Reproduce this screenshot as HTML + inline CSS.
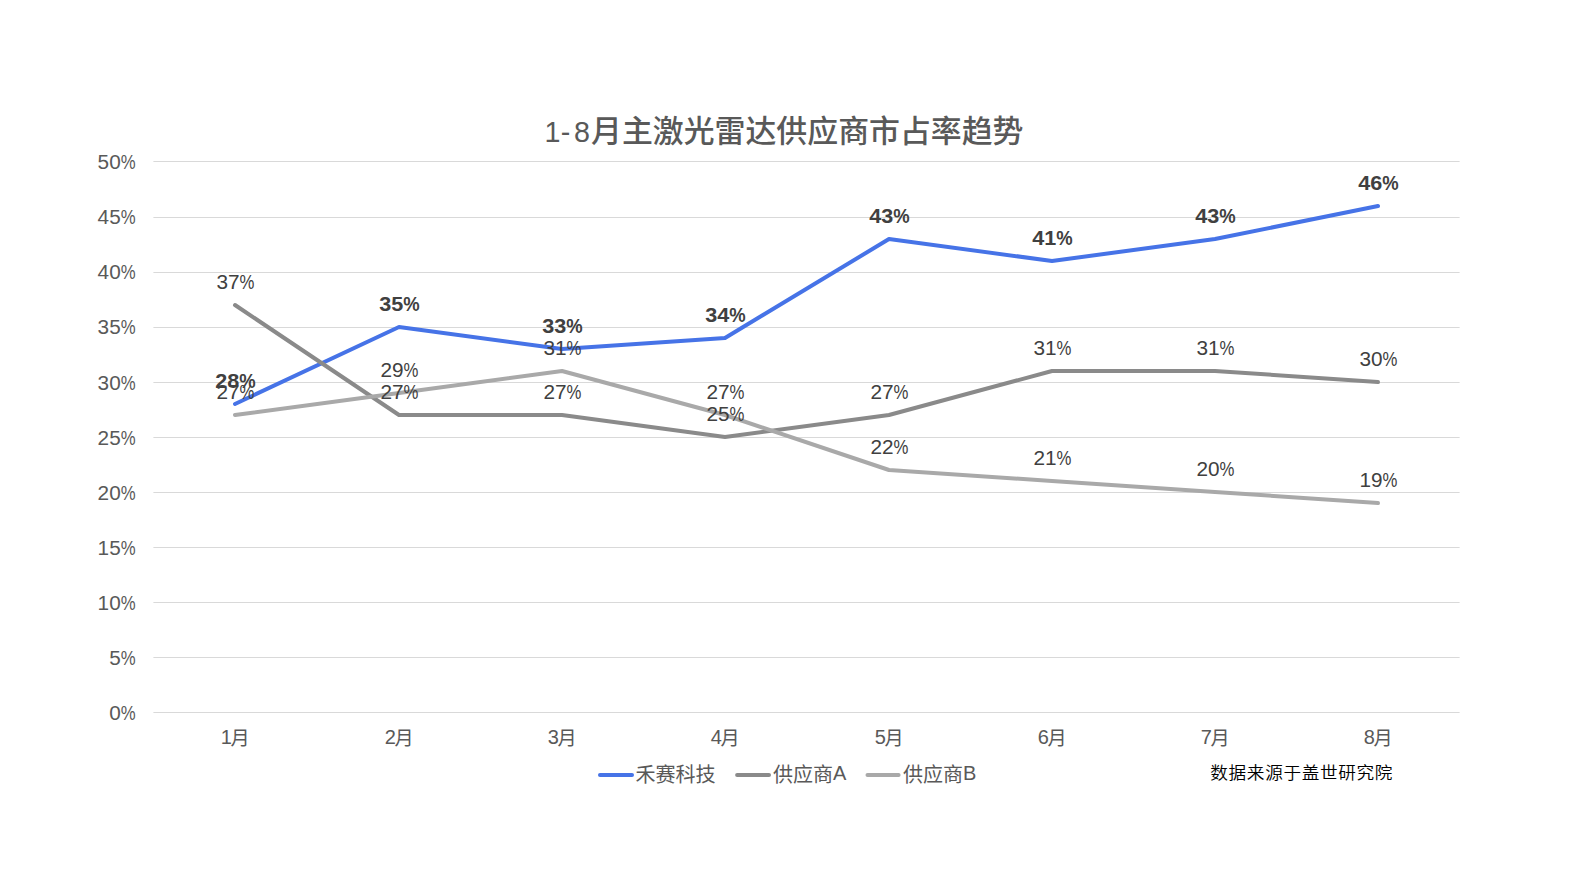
<!DOCTYPE html>
<html lang="zh-CN"><head><meta charset="utf-8"><title>1-8月主激光雷达供应商市占率趋势</title>
<style>
html,body{margin:0;padding:0;background:#fff;}
body{width:1593px;height:890px;overflow:hidden;}
svg{display:block;}
text{font-family:"Liberation Sans","Noto Sans CJK SC",sans-serif;}
.ax{font-size:20px;fill:#595959;text-anchor:end;}
.cat{font-size:19.2px;fill:#595959;text-anchor:middle;}
.lb{font-size:20px;fill:#404040;text-anchor:middle;}
.lbb{font-size:20px;fill:#404040;font-weight:bold;text-anchor:middle;}
.ttl{font-size:30.9px;fill:#595959;}
.leg{font-size:20px;fill:#595959;}
.src{font-size:17.64px;fill:#000;font-weight:350;letter-spacing:0.66px;}
.ln{fill:none;stroke-width:4;stroke-linecap:round;stroke-linejoin:round;}
</style></head><body>
<svg width="1593" height="890" viewBox="0 0 1593 890">
<rect width="1593" height="890" fill="#ffffff"/>
<text class="ttl" y="141.5"><tspan x="544.6" dx="0 -1.7 1.7" font-size="28.7" letter-spacing="1.9">1-8</tspan><tspan x="591" font-weight="500">月主激光雷达供应商市占率趋势</tspan></text>
<g fill="#d9d9d9">
<rect x="153.4" y="161" width="1306.2" height="1"/>
<rect x="153.4" y="217" width="1306.2" height="1"/>
<rect x="153.4" y="272" width="1306.2" height="1"/>
<rect x="153.4" y="327" width="1306.2" height="1"/>
<rect x="153.4" y="382" width="1306.2" height="1"/>
<rect x="153.4" y="437" width="1306.2" height="1"/>
<rect x="153.4" y="492" width="1306.2" height="1"/>
<rect x="153.4" y="547" width="1306.2" height="1"/>
<rect x="153.4" y="602" width="1306.2" height="1"/>
<rect x="153.4" y="657" width="1306.2" height="1"/>
<rect x="153.4" y="712" width="1306.2" height="1"/>
</g>
<g class="ax">
<text x="135.6" y="168.6"><tspan textLength="23.10" lengthAdjust="spacingAndGlyphs">50</tspan><tspan textLength="14.90" lengthAdjust="spacingAndGlyphs">%</tspan></text>
<text x="135.6" y="223.6"><tspan textLength="23.10" lengthAdjust="spacingAndGlyphs">45</tspan><tspan textLength="14.90" lengthAdjust="spacingAndGlyphs">%</tspan></text>
<text x="135.6" y="278.6"><tspan textLength="23.10" lengthAdjust="spacingAndGlyphs">40</tspan><tspan textLength="14.90" lengthAdjust="spacingAndGlyphs">%</tspan></text>
<text x="135.6" y="333.6"><tspan textLength="23.10" lengthAdjust="spacingAndGlyphs">35</tspan><tspan textLength="14.90" lengthAdjust="spacingAndGlyphs">%</tspan></text>
<text x="135.6" y="389.6"><tspan textLength="23.10" lengthAdjust="spacingAndGlyphs">30</tspan><tspan textLength="14.90" lengthAdjust="spacingAndGlyphs">%</tspan></text>
<text x="135.6" y="444.6"><tspan textLength="23.10" lengthAdjust="spacingAndGlyphs">25</tspan><tspan textLength="14.90" lengthAdjust="spacingAndGlyphs">%</tspan></text>
<text x="135.6" y="499.6"><tspan textLength="23.10" lengthAdjust="spacingAndGlyphs">20</tspan><tspan textLength="14.90" lengthAdjust="spacingAndGlyphs">%</tspan></text>
<text x="135.6" y="554.5"><tspan textLength="23.10" lengthAdjust="spacingAndGlyphs">15</tspan><tspan textLength="14.90" lengthAdjust="spacingAndGlyphs">%</tspan></text>
<text x="135.6" y="609.5"><tspan textLength="23.10" lengthAdjust="spacingAndGlyphs">10</tspan><tspan textLength="14.90" lengthAdjust="spacingAndGlyphs">%</tspan></text>
<text x="135.6" y="664.5"><tspan textLength="11.55" lengthAdjust="spacingAndGlyphs">5</tspan><tspan textLength="14.90" lengthAdjust="spacingAndGlyphs">%</tspan></text>
<text x="135.6" y="719.5"><tspan textLength="11.55" lengthAdjust="spacingAndGlyphs">0</tspan><tspan textLength="14.90" lengthAdjust="spacingAndGlyphs">%</tspan></text>
</g>
<g class="cat">
<text x="235.2" y="745.4"><tspan font-size="20" dy="-1.4" letter-spacing="-1.2">1</tspan><tspan dy="1.1">月</tspan></text>
<text x="399.2" y="745.4"><tspan font-size="20" dy="-1.4" letter-spacing="-1.2">2</tspan><tspan dy="1.1">月</tspan></text>
<text x="562.2" y="745.4"><tspan font-size="20" dy="-1.4" letter-spacing="-1.2">3</tspan><tspan dy="1.1">月</tspan></text>
<text x="725.2" y="745.4"><tspan font-size="20" dy="-1.4" letter-spacing="-1.2">4</tspan><tspan dy="1.1">月</tspan></text>
<text x="889.2" y="745.4"><tspan font-size="20" dy="-1.4" letter-spacing="-1.2">5</tspan><tspan dy="1.1">月</tspan></text>
<text x="1052.2" y="745.4"><tspan font-size="20" dy="-1.4" letter-spacing="-1.2">6</tspan><tspan dy="1.1">月</tspan></text>
<text x="1215.2" y="745.4"><tspan font-size="20" dy="-1.4" letter-spacing="-1.2">7</tspan><tspan dy="1.1">月</tspan></text>
<text x="1378.2" y="745.4"><tspan font-size="20" dy="-1.4" letter-spacing="-1.2">8</tspan><tspan dy="1.1">月</tspan></text>
</g>
<polyline class="ln" stroke="#4673e7" points="235.0,404.0 399.0,327.0 562.0,349.0 725.0,338.0 889.0,239.0 1052.0,261.0 1215.0,239.0 1378.0,206.0"/>
<polyline class="ln" stroke="#8a8a8a" points="235.0,305.0 399.0,415.0 562.0,415.0 725.0,437.0 889.0,415.0 1052.0,371.0 1215.0,371.0 1378.0,382.0"/>
<polyline class="ln" stroke="#a9a9a9" points="235.0,415.0 399.0,393.0 562.0,371.0 725.0,415.0 889.0,470.0 1052.0,481.0 1215.0,492.0 1378.0,503.0"/>
<g class="lbb">
<text x="235.5" y="388.2"><tspan textLength="24.00" lengthAdjust="spacingAndGlyphs">28</tspan><tspan textLength="16.40" lengthAdjust="spacingAndGlyphs">%</tspan></text>
<text x="399.5" y="311.2"><tspan textLength="24.00" lengthAdjust="spacingAndGlyphs">35</tspan><tspan textLength="16.40" lengthAdjust="spacingAndGlyphs">%</tspan></text>
<text x="562.5" y="333.2"><tspan textLength="24.00" lengthAdjust="spacingAndGlyphs">33</tspan><tspan textLength="16.40" lengthAdjust="spacingAndGlyphs">%</tspan></text>
<text x="725.5" y="322.2"><tspan textLength="24.00" lengthAdjust="spacingAndGlyphs">34</tspan><tspan textLength="16.40" lengthAdjust="spacingAndGlyphs">%</tspan></text>
<text x="889.5" y="223.2"><tspan textLength="24.00" lengthAdjust="spacingAndGlyphs">43</tspan><tspan textLength="16.40" lengthAdjust="spacingAndGlyphs">%</tspan></text>
<text x="1052.5" y="245.2"><tspan textLength="24.00" lengthAdjust="spacingAndGlyphs">41</tspan><tspan textLength="16.40" lengthAdjust="spacingAndGlyphs">%</tspan></text>
<text x="1215.5" y="223.2"><tspan textLength="24.00" lengthAdjust="spacingAndGlyphs">43</tspan><tspan textLength="16.40" lengthAdjust="spacingAndGlyphs">%</tspan></text>
<text x="1378.5" y="190.2"><tspan textLength="24.00" lengthAdjust="spacingAndGlyphs">46</tspan><tspan textLength="16.40" lengthAdjust="spacingAndGlyphs">%</tspan></text>
</g>
<g class="lb">
<text x="235.5" y="289.2"><tspan textLength="23.10" lengthAdjust="spacingAndGlyphs">37</tspan><tspan textLength="14.90" lengthAdjust="spacingAndGlyphs">%</tspan></text>
<text x="399.5" y="399.2"><tspan textLength="23.10" lengthAdjust="spacingAndGlyphs">27</tspan><tspan textLength="14.90" lengthAdjust="spacingAndGlyphs">%</tspan></text>
<text x="562.5" y="399.2"><tspan textLength="23.10" lengthAdjust="spacingAndGlyphs">27</tspan><tspan textLength="14.90" lengthAdjust="spacingAndGlyphs">%</tspan></text>
<text x="725.5" y="421.2"><tspan textLength="23.10" lengthAdjust="spacingAndGlyphs">25</tspan><tspan textLength="14.90" lengthAdjust="spacingAndGlyphs">%</tspan></text>
<text x="889.5" y="399.2"><tspan textLength="23.10" lengthAdjust="spacingAndGlyphs">27</tspan><tspan textLength="14.90" lengthAdjust="spacingAndGlyphs">%</tspan></text>
<text x="1052.5" y="355.2"><tspan textLength="23.10" lengthAdjust="spacingAndGlyphs">31</tspan><tspan textLength="14.90" lengthAdjust="spacingAndGlyphs">%</tspan></text>
<text x="1215.5" y="355.2"><tspan textLength="23.10" lengthAdjust="spacingAndGlyphs">31</tspan><tspan textLength="14.90" lengthAdjust="spacingAndGlyphs">%</tspan></text>
<text x="1378.5" y="366.2"><tspan textLength="23.10" lengthAdjust="spacingAndGlyphs">30</tspan><tspan textLength="14.90" lengthAdjust="spacingAndGlyphs">%</tspan></text>
</g>
<g class="lb">
<text x="235.5" y="399.2"><tspan textLength="23.10" lengthAdjust="spacingAndGlyphs">27</tspan><tspan textLength="14.90" lengthAdjust="spacingAndGlyphs">%</tspan></text>
<text x="399.5" y="377.2"><tspan textLength="23.10" lengthAdjust="spacingAndGlyphs">29</tspan><tspan textLength="14.90" lengthAdjust="spacingAndGlyphs">%</tspan></text>
<text x="562.5" y="355.2"><tspan textLength="23.10" lengthAdjust="spacingAndGlyphs">31</tspan><tspan textLength="14.90" lengthAdjust="spacingAndGlyphs">%</tspan></text>
<text x="725.5" y="399.2"><tspan textLength="23.10" lengthAdjust="spacingAndGlyphs">27</tspan><tspan textLength="14.90" lengthAdjust="spacingAndGlyphs">%</tspan></text>
<text x="889.5" y="454.2"><tspan textLength="23.10" lengthAdjust="spacingAndGlyphs">22</tspan><tspan textLength="14.90" lengthAdjust="spacingAndGlyphs">%</tspan></text>
<text x="1052.5" y="465.2"><tspan textLength="23.10" lengthAdjust="spacingAndGlyphs">21</tspan><tspan textLength="14.90" lengthAdjust="spacingAndGlyphs">%</tspan></text>
<text x="1215.5" y="476.2"><tspan textLength="23.10" lengthAdjust="spacingAndGlyphs">20</tspan><tspan textLength="14.90" lengthAdjust="spacingAndGlyphs">%</tspan></text>
<text x="1378.5" y="487.2"><tspan textLength="23.10" lengthAdjust="spacingAndGlyphs">19</tspan><tspan textLength="14.90" lengthAdjust="spacingAndGlyphs">%</tspan></text>
</g>
<g class="ln">
<line x1="600" y1="774.9" x2="632" y2="774.9" stroke="#4673e7"/>
<line x1="737.1" y1="774.9" x2="769.0" y2="774.9" stroke="#8a8a8a"/>
<line x1="867.5" y1="774.9" x2="898.6" y2="774.9" stroke="#a9a9a9"/>
</g>
<g class="leg">
<text x="635.5" y="781.8">禾赛科技</text>
<text x="773.0" y="781.8">供应商<tspan dy="-2.2">A</tspan></text>
<text x="903.0" y="781.8">供应商<tspan dy="-2.2">B</tspan></text>
</g>
<text class="src" transform="translate(1210.3 778.7) scale(1 0.943)">数据来源于盖世研究院</text>
</svg>
</body></html>
